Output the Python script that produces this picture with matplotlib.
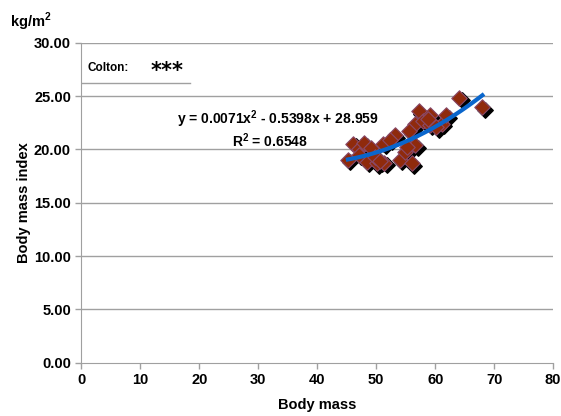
import numpy as np
import matplotlib
matplotlib.use('Agg')
import matplotlib.pyplot as plt
from matplotlib.transforms import offset_copy

plt.rcParams['font.family'] = ['Liberation Sans', 'DejaVu Sans']
plt.rcParams['font.weight'] = 'bold'
plt.rcParams['mathtext.fontset'] = 'custom'
plt.rcParams['mathtext.bf'] = 'Liberation Sans:bold'

# Дані: маса тіла (кг) та індекс маси тіла (кг/м2)
body_mass = [45.2, 46.1, 47.1, 48.0, 48.4, 49.1, 50.1, 51.2, 51.4, 53.1,
             54.0, 54.9, 56.0, 56.1, 56.6, 56.6, 57.2, 58.0, 59.1, 59.1,
             61.1, 61.9, 64.1, 68.0, 47.0, 49.8, 52.3, 55.3, 58.7, 60.2,
             50.6, 55.6]
bmi = [19.06, 20.56, 20.0, 20.6, 18.84, 20.1, 18.69, 20.56, 18.75, 21.34,
       19.06, 19.78, 18.69, 20.56, 22.4, 20.4, 23.6, 22.7, 23.2, 22.3,
       22.4, 23.2, 24.87, 23.94, 19.5, 19.3, 20.9, 20.2, 22.9, 22.1,
       18.9, 21.7]

# Поліноміальний тренд (коефіцієнти з підпису на графіку)
trend_coef = [0.0071, -0.5398, 28.959]
trend_range = [45.2, 68.0]

x_ticks = [0, 10, 20, 30, 40, 50, 60, 70, 80]
y_ticks = [0, 5, 10, 15, 20, 25, 30]

fig = plt.figure(figsize=(5.61, 4.16), dpi=100)
ax = fig.add_axes([0.145, 0.128, 0.841, 0.769])

grid_col = '#a0a0a0'
for yt in y_ticks[1:]:
    ax.axhline(yt, color=grid_col, lw=1, zorder=0)

# Тінь маркерів
shadow = offset_copy(ax.transData, fig=fig, x=1.8, y=-1.8, units='points')
ax.scatter(body_mass, bmi, marker='D', s=62, color='black', transform=shadow, zorder=2)
ax.scatter(body_mass, bmi, marker='D', s=62, color='#8f2a0c',
           edgecolors='#8a4a6a', linewidths=0.8, zorder=3)

tx = np.linspace(trend_range[0], trend_range[1], 100)
ax.plot(tx, np.polyval(trend_coef, tx), color='#0a66cc', lw=3, zorder=4)

ax.set_xlim(0, 80)
ax.set_ylim(0, 30)
ax.set_xticks(x_ticks)
ax.set_yticks(y_ticks)
ax.set_yticklabels([f'{v:.2f}' for v in y_ticks])
ax.tick_params(labelsize=10.5, color=grid_col, length=4, width=1)
for lab in ax.get_xticklabels() + ax.get_yticklabels():
    lab.set_fontweight('bold')
ax.spines['top'].set_visible(False)
ax.spines['right'].set_visible(False)
ax.spines['left'].set_color(grid_col)
ax.spines['bottom'].set_color(grid_col)

ax.set_xlabel('Body mass', fontsize=10.5, fontweight='bold', labelpad=8)
ax.set_ylabel('Body mass index', fontsize=10.5, fontweight='bold', labelpad=2)
fig.text(0.018, 0.935, 'kg/m$^\\mathbf{2}$', fontsize=10.5, fontweight='bold')

ax.text(0.417, 0.76, 'y = 0.0071x$^\\mathbf{2}$ - 0.5398x + 28.959', transform=ax.transAxes,
        fontsize=10, fontweight='bold', ha='center', va='center')
ax.text(0.40, 0.693, 'R$^\\mathbf{2}$ = 0.6548', transform=ax.transAxes,
        fontsize=10, fontweight='bold', ha='center', va='center')

ax.text(0.014, 0.922, 'Colton:', transform=ax.transAxes, fontsize=8.5,
        fontweight='bold', va='center')
ax.text(0.146, 0.912, '***', transform=ax.transAxes, fontsize=15,
        fontweight='bold', va='center', family='DejaVu Sans')
ax.plot([0.0, 0.23], [0.875, 0.875], transform=ax.transAxes, color=grid_col, lw=1)

fig.savefig('out.png', dpi=100)
